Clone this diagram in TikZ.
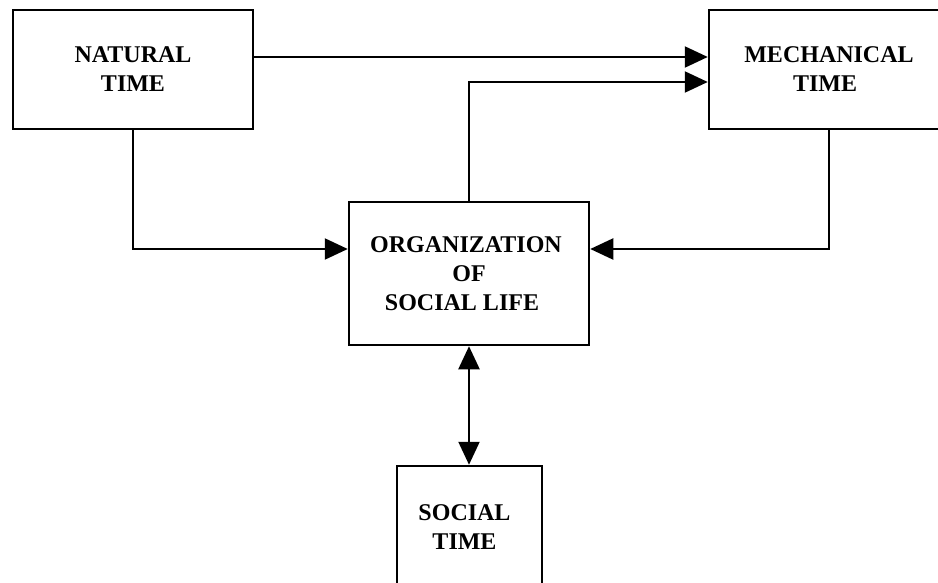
\documentclass[tikz,border=0pt]{standalone}
\usepackage{fontspec}
\setmainfont{Liberation Serif}
\usetikzlibrary{arrows.meta}
\begin{document}
\begin{tikzpicture}[x=1pt,y=-1pt,
  box/.style={draw=black, line width=2.5pt, rectangle, align=center, inner sep=0pt,
    font=\fontsize{24}{29}\selectfont\bfseries},
  arr/.style={draw=black, line width=2.2pt, -{Triangle[length=23pt,width=21pt]}},
  arrtwo/.style={draw=black, line width=2.2pt, {Triangle[length=23pt,width=21pt]}-{Triangle[length=23pt,width=21pt]}}]
\useasboundingbox (0,0) rectangle (938,583);
\clip (0,0) rectangle (938,583);
\fill[white] (0,0) rectangle (938,583);
\node[box, minimum width=240pt, minimum height=119pt] (nat) at (133,69.5) {NATURAL\\TIME};
\node[box, minimum width=240pt, minimum height=119pt] (mech) at (829,69.5) {MECHANICAL\\TIME\hspace*{8pt}};
\node[box, minimum width=240pt, minimum height=143pt] (org) at (469,273.5) {ORGANIZATION\hspace*{6pt}\\OF\\SOCIAL LIFE\hspace*{14pt}};
\node[box, minimum width=145pt, minimum height=122pt] (soc) at (469.5,527) {SOCIAL\hspace*{10pt}\\TIME\hspace*{10pt}};
\coordinate (r1) at (0,57);
\coordinate (r2) at (0,82);
\coordinate (r3) at (0,249);
\draw[arr] (nat.east |- r1) -- (mech.west |- r1);
\draw[arr] (org.north) |- (mech.west |- r2);
\draw[arr] (nat.south) |- (org.west |- r3);
\draw[arr] (mech.south) |- (org.east |- r3);
\draw[arrtwo] (org.south) -- (org.south |- soc.north);
\end{tikzpicture}
\end{document}
